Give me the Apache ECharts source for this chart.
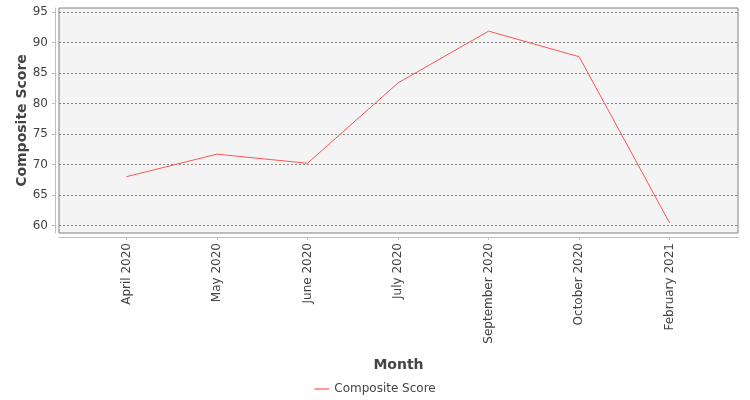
<!DOCTYPE html>
<html>
<head>
<meta charset="utf-8">
<script src="https://cdn.jsdelivr.net/npm/echarts@6/dist/echarts.min.js"></script>
<style>
html,body{margin:0;padding:0;background:#fff;}
#chart{width:750px;height:400px;}
</style>
</head>
<body>
<div id="chart"></div>
<script>
const categories = ['April 2020', 'May 2020', 'June 2020', 'July 2020', 'September 2020', 'October 2020', 'February 2021'];
const compositeScore = [68.0, 71.7, 70.2, 83.4, 91.9, 87.7, 60.4];
const yTicks = [60, 65, 70, 75, 80, 85, 90, 95];
const seriesName = 'Composite Score';

const chart = echarts.init(document.getElementById('chart'), null, {renderer: 'canvas'});
const font = 'DejaVu Sans';
const option = {
  animation: false,
  backgroundColor: '#ffffff',
  textStyle: {fontFamily: font},
  grid: {
    left: 59, right: 12, top: 8, bottom: 167,
    show: true, backgroundColor: '#f4f4f4', borderColor: '#808080', borderWidth: 1,
    containLabel: false
  },
  legend: {
    bottom: 0, left: 'center',
    data: [{name: seriesName, icon: 'path://M0,0 L15,0 L15,1.2 L0,1.2 Z'}],
    itemWidth: 15, itemHeight: 2, itemGap: 4,
    textStyle: {fontFamily: font, fontSize: 12, color: '#444'}
  },
  xAxis: {
    type: 'value',
    min: -0.745, max: 6.755,
    minInterval: 1, maxInterval: 1,
    offset: 4,
    name: 'Month', nameLocation: 'middle', nameGap: 121,
    nameTextStyle: {fontFamily: font, fontSize: 14, fontWeight: 'bold', color: '#444'},
    axisLine: {show: true, onZero: false, lineStyle: {color: '#c0c0c0', width: 1}},
    axisTick: {show: true, length: 3, customValues: categories.map((c, i) => i), lineStyle: {color: '#c0c0c0'}},
    axisLabel: {
      rotate: 90, margin: 6, fontFamily: font, fontSize: 12, color: '#444',
      customValues: categories.map((c, i) => i),
      formatter: v => (Number.isInteger(v) && categories[v] !== undefined) ? categories[v] : ''
    },
    splitLine: {show: false}
  },
  yAxis: {
    type: 'value',
    min: 58.75, max: 95.7,
    minInterval: 5, maxInterval: 5,
    offset: 4,
    name: 'Composite Score', nameLocation: 'middle', nameGap: 26, nameMoveOverlap: false,
    nameTextStyle: {fontFamily: font, fontSize: 14, fontWeight: 'bold', color: '#444'},
    axisLine: {show: true, onZero: false, lineStyle: {color: '#c0c0c0', width: 1}},
    axisTick: {show: true, length: 3, customValues: yTicks, lineStyle: {color: '#c0c0c0'}},
    axisLabel: {margin: 7, fontFamily: font, fontSize: 12, color: '#444', customValues: yTicks},
    splitLine: {show: true, lineStyle: {color: '#808080', width: 1, type: [2, 2]}}
  },
  series: [{
    name: seriesName,
    type: 'line',
    data: compositeScore.map((v, i) => [i, v]),
    symbol: 'none',
    lineStyle: {color: '#ff5555', width: 1},
    itemStyle: {color: '#ff5555'}
  }]
};
chart.setOption(option);
</script>
</body>
</html>
